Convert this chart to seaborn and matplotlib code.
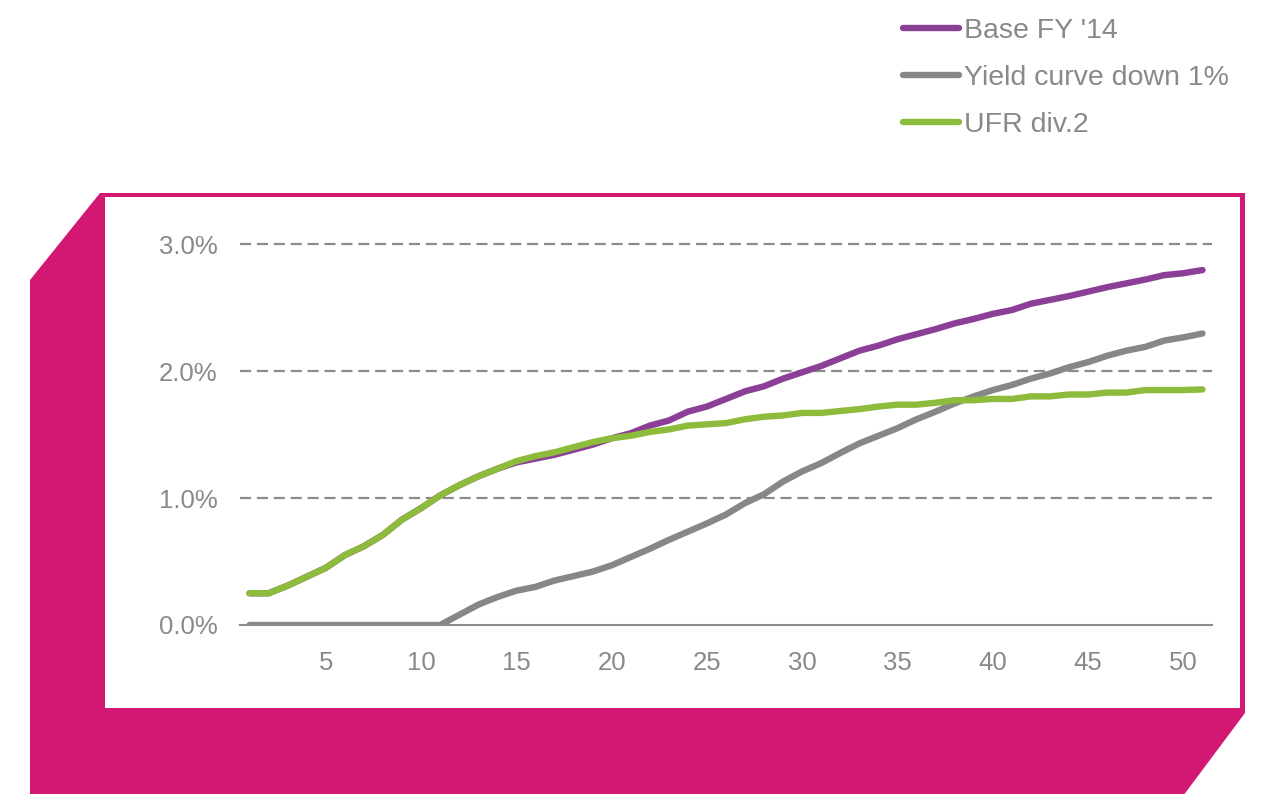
import matplotlib
matplotlib.use("Agg")
import matplotlib.pyplot as plt
from matplotlib.patches import Polygon, Rectangle
from matplotlib.ticker import FuncFormatter, FixedLocator
import pandas as pd
import seaborn as sns

# Projection year (1..51)
years = list(range(1, 52))

# Forward curve by scenario, in percent
base_fy14 = [0.25, 0.25, 0.31, 0.38, 0.45, 0.55, 0.62, 0.71, 0.83, 0.92,
             1.02, 1.10, 1.17, 1.23, 1.28, 1.31, 1.34, 1.38, 1.42, 1.47,
             1.51, 1.57, 1.61, 1.68, 1.72, 1.78, 1.84, 1.88, 1.94, 1.99,
             2.04, 2.10, 2.16, 2.20, 2.25, 2.29, 2.33, 2.375, 2.41, 2.45,
             2.48, 2.53, 2.56, 2.59, 2.625, 2.66, 2.69, 2.72, 2.755, 2.77,
             2.795]
yield_down_1 = [0.0, 0.0, 0.0, 0.0, 0.0, 0.0, 0.0, 0.0, 0.0, 0.0,
                0.0, 0.08, 0.16, 0.22, 0.27, 0.30, 0.35, 0.385, 0.42, 0.47,
                0.535, 0.60, 0.67, 0.735, 0.80, 0.87, 0.96, 1.03, 1.13, 1.21,
                1.275, 1.355, 1.43, 1.49, 1.55, 1.62, 1.68, 1.745, 1.80, 1.85,
                1.89, 1.94, 1.98, 2.03, 2.07, 2.12, 2.16, 2.19, 2.24, 2.265,
                2.295]
ufr_div2 = [0.25, 0.25, 0.31, 0.38, 0.45, 0.55, 0.62, 0.71, 0.83, 0.92,
            1.02, 1.10, 1.17, 1.23, 1.29, 1.33, 1.36, 1.40, 1.44, 1.47,
            1.49, 1.52, 1.54, 1.57, 1.58, 1.59, 1.62, 1.64, 1.65, 1.67,
            1.67, 1.685, 1.70, 1.72, 1.735, 1.735, 1.75, 1.77, 1.77, 1.78,
            1.78, 1.80, 1.80, 1.815, 1.815, 1.83, 1.83, 1.85, 1.85, 1.85,
            1.855]

scenarios = ["Base FY '14", "Yield curve down 1%", "UFR div.2"]
colors = ["#8B3F97", "#878787", "#8DBB3C"]
y_ticks = [0, 1, 2, 3]
x_ticks = [5, 10, 15, 20, 25, 30, 35, 40, 45, 50]

df = pd.DataFrame({
    "year": years * 3,
    "rate": base_fy14 + yield_down_1 + ufr_div2,
    "scenario": [scenarios[0]] * 51 + [scenarios[1]] * 51 + [scenarios[2]] * 51,
})

sns.set_theme(style="white")
plt.rcParams["font.family"] = ["Liberation Sans", "DejaVu Sans"]

TEXT = "#898989"
MAGENTA = "#D31873"
W, H = 1279, 794

fig = plt.figure(figsize=(W / 100, H / 100), dpi=100)
fig.patch.set_facecolor("white")

# Decorative frame: magenta cut-corner panel with a white plotting card
bg = fig.add_axes([0, 0, 1, 1])
bg.set_xlim(0, W)
bg.set_ylim(H, 0)
bg.axis("off")
bg.add_patch(Polygon([(30, 280), (100, 193), (1245, 193), (1245, 713),
                      (1183, H + 2), (30, H + 2)],
                     closed=True, facecolor=MAGENTA, edgecolor="none"))
bg.add_patch(Rectangle((105, 197), 1135, 511, facecolor="white",
                       edgecolor="none"))

# Main plot area
ax = fig.add_axes([240 / W, 1 - 625 / H, 972 / W, 381 / H])
ax.set_facecolor("none")

sns.lineplot(data=df, x="year", y="rate", hue="scenario",
             hue_order=scenarios, palette=colors, linewidth=4.6,
             ax=ax, legend=False, solid_capstyle="round")

ax.set_xlim(0.5, 51.5)
ax.set_ylim(0, 3)
ax.yaxis.set_major_locator(FixedLocator(y_ticks))
ax.xaxis.set_major_locator(FixedLocator(x_ticks))
ax.yaxis.set_major_formatter(FuncFormatter(lambda v, p: f"{v:.1f}%"))
ax.set_xlabel("")
ax.set_ylabel("")

for name in ["top", "right", "left"]:
    ax.spines[name].set_visible(False)
ax.spines["bottom"].set_color("#8c8c8c")
ax.spines["bottom"].set_linewidth(1.5)

ax.grid(axis="y", color="#8c8c8c", linestyle=(0, (5, 2.6)), linewidth=1.6)
ax.grid(axis="x", visible=False)
for gl in ax.get_ygridlines():
    gl.set_clip_on(False)
ax.get_ygridlines()[0].set_visible(False)
ax.set_axisbelow(True)

ax.tick_params(axis="y", length=0, pad=16, labelsize=18.5, labelcolor=TEXT)
ax.tick_params(axis="x", length=0, pad=19, labelsize=18.5, labelcolor=TEXT)

# Legend above the panel
handles = [plt.Line2D([], [], color=c, linewidth=4.6, solid_capstyle="round")
           for c in colors]
leg = fig.legend(handles, scenarios, loc="upper left",
                 bbox_to_anchor=(903 / W, 1 - 18 / H), frameon=False,
                 fontsize=20.5, handlelength=1.95, handletextpad=0.18,
                 labelspacing=0.74, borderpad=0, borderaxespad=0)
for t in leg.get_texts():
    t.set_color(TEXT)

fig.savefig("out.png", dpi=100, facecolor="white")
